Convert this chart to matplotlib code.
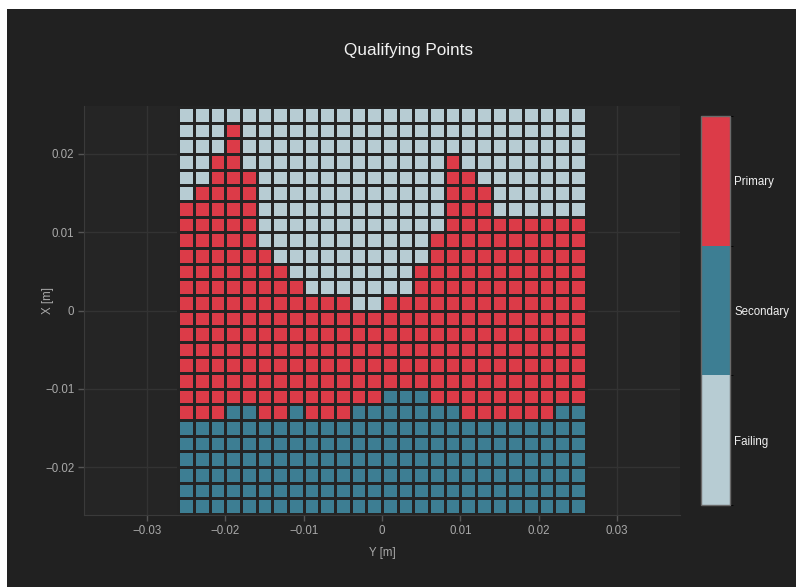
"""
Qualifying points map: each grid point is classed as Primary, Secondary
or Failing and drawn as a heatmap cell on a dark theme.
"""

import matplotlib

matplotlib.use("Agg")

import matplotlib.pyplot as plt
import numpy as np
from matplotlib.colors import BoundaryNorm, ListedColormap
from matplotlib.patches import Rectangle

# ---------------------------------------------------------------------------
# Data: 26 x 26 grid, rows listed from top (X = +0.025) to bottom (X = -0.025)
# P = Primary, S = Secondary, F = Failing
# ---------------------------------------------------------------------------
Y_CENTERS = np.round(np.arange(-0.025, 0.0251, 0.002), 3)  # horizontal axis
X_CENTERS = np.round(np.arange(0.025, -0.0251, -0.002), 3)  # vertical axis, top first

GRID_ROWS = [
    "FFFFFFFFFFFFFFFFFFFFFFFFFF",
    "FFFPFFFFFFFFFFFFFFFFFFFFFF",
    "FFFPFFFFFFFFFFFFFFFFFFFFFF",
    "FFPPFFFFFFFFFFFFFPFFFFFFFF",
    "FFPPPFFFFFFFFFFFFPPFFFFFFF",
    "FPPPPFFFFFFFFFFFFPPPFFFFFF",
    "PPPPPFFFFFFFFFFFFPPPFFFFFF",
    "PPPPPFFFFFFFFFFFFPPPPPPPPP",
    "PPPPPFFFFFFFFFFFPPPPPPPPPP",
    "PPPPPPFFFFFFFFFFPPPPPPPPPP",
    "PPPPPPPFFFFFFFFPPPPPPPPPPP",
    "PPPPPPPPFFFFFFFPPPPPPPPPPP",
    "PPPPPPPPPPPFFPPPPPPPPPPPPP",
    "PPPPPPPPPPPPPPPPPPPPPPPPPP",
    "PPPPPPPPPPPPPPPPPPPPPPPPPP",
    "PPPPPPPPPPPPPPPPPPPPPPPPPP",
    "PPPPPPPPPPPPPPPPPPPPPPPPPP",
    "PPPPPPPPPPPPPPPPPPPPPPPPPP",
    "PPPPPPPPPPPPPSSSPPPPPPPPPP",
    "PPPSSPPSPPPSSSSSSSPPPPPPSS",
    "SSSSSSSSSSSSSSSSSSSSSSSSSS",
    "SSSSSSSSSSSSSSSSSSSSSSSSSS",
    "SSSSSSSSSSSSSSSSSSSSSSSSSS",
    "SSSSSSSSSSSSSSSSSSSSSSSSSS",
    "SSSSSSSSSSSSSSSSSSSSSSSSSS",
    "SSSSSSSSSSSSSSSSSSSSSSSSSS",
]

CLASS_CODES = {"F": 0, "S": 1, "P": 2}
CLASS_LABELS = ["Failing", "Secondary", "Primary"]
CLASS_COLORS = ["#b7ccd3", "#3d7e93", "#dc3b48"]

X_TICKS = [-0.03, -0.02, -0.01, 0, 0.01, 0.02, 0.03]
Y_TICKS = [-0.02, -0.01, 0, 0.01, 0.02]

# ---------------------------------------------------------------------------
# Styling
# ---------------------------------------------------------------------------
W, H = 796, 587
PAPER = "#212121"
PLOT_BG = "#252525"
GRID = "#333333"
TICK_TEXT = "#a9a9a9"
plt.rcParams["font.family"] = ["Liberation Sans", "DejaVu Sans"]


def fmt(v):
    if v == 0:
        return "0"
    return f"{v:g}".replace("-", "\u2212")


def edges(centers):
    step = centers[1] - centers[0]
    return np.append(centers - step / 2, centers[-1] + step / 2)


def main():
    codes = np.array([[CLASS_CODES[c] for c in row] for row in GRID_ROWS])

    fig = plt.figure(figsize=(W / 100, H / 100), dpi=100, facecolor="white")
    # dark paper, leaving a thin white strip on top and left
    fig.patches.append(Rectangle((7 / W, 0), 1, 1 - 9 / H, transform=fig.transFigure,
                                 facecolor=PAPER, edgecolor="none", zorder=-10))

    ax = fig.add_axes([84 / W, 1 - 515 / H, (680 - 84) / W, (515 - 106) / H])
    ax.set_facecolor(PLOT_BG)

    cmap = ListedColormap(CLASS_COLORS)
    norm = BoundaryNorm([-0.5, 0.5, 1.5, 2.5], cmap.N)
    ax.pcolormesh(edges(Y_CENTERS), edges(X_CENTERS), codes, cmap=cmap, norm=norm,
                  edgecolors="#242424", linewidth=1.9, zorder=2)

    ax.set_xlim(-0.03804, 0.03804)
    ax.set_ylim(-0.02613, 0.02613)

    ax.set_xticks(X_TICKS)
    ax.set_xticklabels([fmt(v) for v in X_TICKS])
    ax.set_yticks(Y_TICKS)
    ax.set_yticklabels([fmt(v) for v in Y_TICKS])
    ax.tick_params(colors="#555555", labelcolor=TICK_TEXT, labelsize=8.3,
                   length=4, width=1, pad=3)
    ax.grid(True, color=GRID, linewidth=1, zorder=0)
    ax.set_axisbelow(True)
    for side in ("top", "right"):
        ax.spines[side].set_visible(False)
    for side in ("left", "bottom"):
        ax.spines[side].set_color("#3a3a3a")

    fig.text(408 / W, 1 - 51 / H, "Qualifying Points", ha="center", va="center",
             color="#f2f2f2", fontsize=12.3)
    fig.text(382 / W, 1 - 553 / H, "Y [m]", ha="center", va="center",
             color=TICK_TEXT, fontsize=8.3)
    fig.text(48 / W, 1 - 300 / H, "X [m]", ha="center", va="center",
             color=TICK_TEXT, fontsize=8.3, rotation=90)

    # categorical colour bar
    cax = fig.add_axes([701 / W, 1 - 505 / H, (730 - 701) / W, (505 - 116) / H])
    sm = plt.cm.ScalarMappable(cmap=cmap, norm=norm)
    cbar = fig.colorbar(sm, cax=cax, ticks=[0, 1, 2])
    cbar.ax.set_yticklabels(CLASS_LABELS)
    cbar.ax.tick_params(length=0, labelcolor="#f0f0f0", labelsize=8.3, pad=3)
    cbar.outline.set_edgecolor("#6a6a6a")
    cbar.outline.set_linewidth(1)

    fig.savefig("out.png", dpi=100, facecolor=fig.get_facecolor())


if __name__ == "__main__":
    main()
